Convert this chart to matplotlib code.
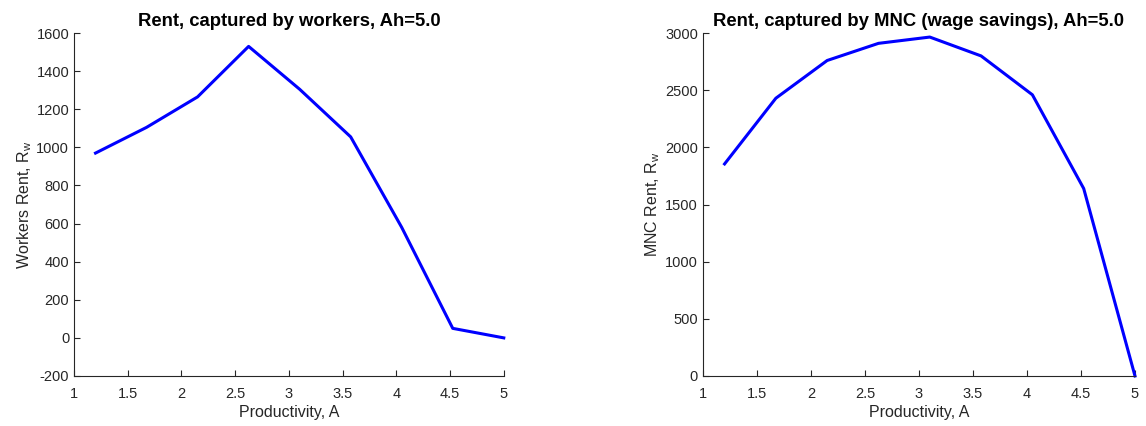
import numpy as np
import matplotlib
matplotlib.use('Agg')
import matplotlib.pyplot as plt

plt.rcParams['font.family'] = ['Liberation Sans', 'DejaVu Sans']
plt.rcParams['axes.unicode_minus'] = False

# productivity grid and rents
A = [1.2, 1.675, 2.15, 2.625, 3.1, 3.575, 4.05, 4.525, 5.0]
rent_workers = [970, 1105, 1265, 1530, 1305, 1055, 580, 50, 0]
rent_mnc = [1855, 2430, 2760, 2910, 2965, 2800, 2460, 1640, 0]

xticks = [1, 1.5, 2, 2.5, 3, 3.5, 4, 4.5, 5]
xticklabels = ['1', '1.5', '2', '2.5', '3', '3.5', '4', '4.5', '5']

grey = '#262626'

fig = plt.figure(figsize=(11.46, 4.26), dpi=100)
ax1 = fig.add_axes([0.0646, 0.1174, 0.375, 0.805])
ax2 = fig.add_axes([0.6134, 0.1174, 0.377, 0.805])

panels = [
    (ax1, rent_workers, 'Rent, captured by workers, Ah=5.0',
     r'Workers Rent, R$_\mathregular{w}$', (-200, 1600), np.arange(-200, 1601, 200)),
    (ax2, rent_mnc, 'Rent, captured by MNC (wage savings), Ah=5.0',
     r'MNC Rent, R$_\mathregular{w}$', (0, 3000), np.arange(0, 3001, 500)),
]

for ax, y, title, ylabel, ylim, yticks in panels:
    ax.plot(A, y, color=(0, 0, 1), linewidth=2.2, clip_on=False)
    ax.set_xlim(1, 5)
    ax.set_ylim(*ylim)
    ax.set_xticks(xticks)
    ax.set_xticklabels(xticklabels)
    ax.set_yticks(yticks)
    ax.set_title(title, fontsize=13.3, fontweight='bold', color='black', pad=5)
    ax.set_xlabel('Productivity, A', fontsize=11.5, color=grey, labelpad=3)
    ax.set_ylabel(ylabel, fontsize=11.5, color=grey, labelpad=2)
    for side in ['top', 'right']:
        ax.spines[side].set_visible(False)
    for side in ['left', 'bottom']:
        ax.spines[side].set_color(grey)
        ax.spines[side].set_linewidth(0.8)
    ax.tick_params(direction='in', length=4, width=0.8, colors=grey,
                   labelsize=10.5, labelcolor=grey)
    ax.tick_params(axis='x', pad=8)

fig.savefig('out.png', dpi=100)
